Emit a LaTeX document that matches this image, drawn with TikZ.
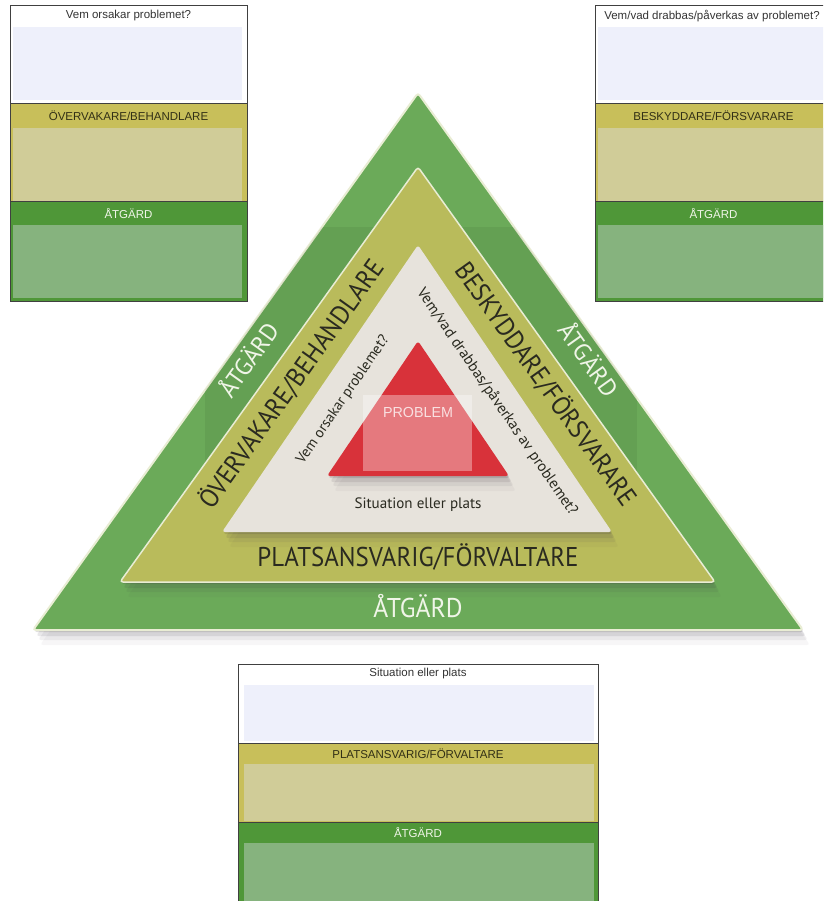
\documentclass[tikz,border=0pt]{standalone}
\usepackage{fontspec}
\usepackage{graphicx}
\setmainfont{Liberation Sans}
\newfontfamily\trifont{PT Sans}
\usetikzlibrary{shadows}
\definecolor{outgreen}{HTML}{6BAA59}
\definecolor{olivetri}{HTML}{B9BB5B}
\definecolor{greytri}{HTML}{E7E3DC}
\definecolor{redtri}{HTML}{D8323A}
\definecolor{creme}{HTML}{E9EDD4}
\definecolor{lav}{HTML}{EEF0FB}
\definecolor{olivehead}{HTML}{C8BF5A}
\definecolor{olivelight}{HTML}{D0CC98}
\definecolor{greenhead}{HTML}{4F9738}
\definecolor{greenlight}{HTML}{86B37E}
\definecolor{darktext}{HTML}{2A2A20}
\definecolor{lighttext}{HTML}{F0F5E8}
\definecolor{shadowcol}{HTML}{3A3040}
\newcommand\capfit[3]{\resizebox{#1}{#2}{\smash{#3}\vphantom{H}}}
\begin{document}
\begin{tikzpicture}[x=1pt,y=-1pt,
  softshadow/.style={
    drop shadow={shadow xshift=1pt,shadow yshift=-2pt,opacity=.16,fill=shadowcol},
    drop shadow={shadow xshift=3pt,shadow yshift=-6pt,opacity=.11,fill=shadowcol},
    drop shadow={shadow xshift=5pt,shadow yshift=-10pt,opacity=.07,fill=shadowcol},
    drop shadow={shadow xshift=7pt,shadow yshift=-15pt,opacity=.04,fill=shadowcol}},
  tri/.style={rounded corners=3pt},
  boxline/.style={draw=black!75,line width=1pt},
  boxfont/.style={font=\fontsize{11.5}{13}\selectfont,inner sep=0pt},
  boxtitle/.style={boxfont,text=black!80},
  oliveheadtext/.style={boxfont,text=black!75!olivehead},
  greenheadtext/.style={boxfont,text=lighttext},
  tritext/.style={font=\trifont,inner sep=0pt,text=darktext},
  triwhite/.style={font=\trifont,inner sep=0pt,text=lighttext}]
\useasboundingbox (0,0) rectangle (823,901);
\clip (0,0) rectangle (823,901);
\fill[white] (0,0) rectangle (823,901);

% ---------- triangles ----------
\coordinate (gA) at (418,93);  \coordinate (gL) at (33,630);  \coordinate (gR) at (803,630);
\coordinate (oA) at (418,167); \coordinate (oL) at (120,582); \coordinate (oR) at (715,582);
\coordinate (eA) at (418,245); \coordinate (eL) at (222,532); \coordinate (eR) at (612,532);
\coordinate (rA) at (418,341); \coordinate (rL) at (327,476); \coordinate (rR) at (509,476);

\path[tri,fill=outgreen,draw=creme,line width=2pt,softshadow] (gA) -- (gL) -- (gR) -- cycle;
\begin{scope}
  \clip (gA) -- (gL) -- (gR) -- cycle;
  \fill[black,opacity=.06] (205,227) rectangle (637,520);
\end{scope}
\path[tri,fill=olivetri,draw=creme,line width=1.5pt,softshadow] (oA) -- (oL) -- (oR) -- cycle;
\path[tri,fill=greytri,softshadow] (eA) -- (eL) -- (eR) -- cycle;
\path[tri,fill=redtri,softshadow] (rA) -- (rL) -- (rR) -- cycle;
\fill[white,opacity=.35] (363,395) rectangle (472,471);

% ---------- triangle texts ----------
\node[inner sep=0pt,text=white!85!redtri,font=\fontsize{11}{12}\selectfont] (prob) at (418,412) {\capfit{70pt}{10pt}{PROBLEM}};
\node[tritext] (sit) at (418,505) {\resizebox{127pt}{!}{\fontsize{15}{16}\selectfont Situation eller plats}};
\node[tritext] (plats) at (418,557) {\capfit{321pt}{19pt}{PLATSANSVARIG/FÖRVALTARE}};
\node[triwhite] (atgB) at (418,608) {\capfit{89pt}{19pt}{ÅTGÄRD}};
\node[tritext,rotate=54.5] (overv) at (291,384) {\capfit{298pt}{18.5pt}{ÖVERVAKARE/BEHANDLARE}};
\node[tritext,rotate=-54.5] (besk) at (546,384) {\capfit{292pt}{18.5pt}{BESKYDDARE/FÖRSVARARE}};
\node[triwhite,rotate=54.5] (atgL) at (249,360) {\capfit{84pt}{17pt}{ÅTGÄRD}};
\node[triwhite,rotate=-54.5] (atgR) at (588,360) {\capfit{84pt}{17pt}{ÅTGÄRD}};
\node[tritext,rotate=55.5] (vemL) at (343,400) {\resizebox{152pt}{!}{\fontsize{15}{16}\selectfont Vem orsakar problemet?}};
\node[tritext,rotate=-55.5] (vemR) at (497,402) {\resizebox{272pt}{!}{\fontsize{15}{16}\selectfont Vem/vad drabbas/påverkas av problemet?}};

% ---------- left box ----------
\fill[white] (10,6) rectangle (247,104);
\fill[lav] (13,27) rectangle (242,100);
\fill[olivehead] (10,104) rectangle (247,202);
\fill[olivelight] (13,128) rectangle (242,201);
\fill[greenhead] (10,202) rectangle (247,301);
\fill[greenlight] (13,225) rectangle (242,298);
\draw[boxline] (10,6) rectangle (247,301);
\draw[boxline] (10,104) -- (247,104) (10,202) -- (247,202);
\node[boxtitle] (lt) at (128.5,16) {Vem orsakar problemet?};
\node[oliveheadtext] (lo) at (128.5,116) {ÖVERVAKARE/BEHANDLARE};
\node[greenheadtext] (lg) at (128.5,213.5) {ÅTGÄRD};

% ---------- right box ----------
\fill[white] (595,6) rectangle (832,104);
\fill[lav] (598,27) rectangle (827,100);
\fill[olivehead] (595,104) rectangle (832,202);
\fill[olivelight] (598,128) rectangle (827,201);
\fill[greenhead] (595,202) rectangle (832,301);
\fill[greenlight] (598,225) rectangle (827,298);
\draw[boxline] (595,6) rectangle (832,301);
\draw[boxline] (595,104) -- (832,104) (595,202) -- (832,202);
\node[boxtitle] (rt) at (712,16) {Vem/vad drabbas/påverkas av problemet?};
\node[oliveheadtext] (ro) at (713.5,116) {BESKYDDARE/FÖRSVARARE};
\node[greenheadtext] (rg) at (713.5,213.5) {ÅTGÄRD};

% ---------- bottom box ----------
\fill[white] (238,664) rectangle (598,743);
\fill[lav] (244,685) rectangle (594,741);
\fill[olivehead] (238,743) rectangle (598,822);
\fill[olivelight] (244,764) rectangle (594,821);
\fill[greenhead] (238,822) rectangle (598,930);
\fill[greenlight] (244,843) rectangle (594,930);
\draw[boxline] (238,930) -- (238,664) -- (598,664) -- (598,930);
\draw[boxline] (238,743) -- (598,743) (238,822) -- (598,822);
\node[boxtitle] (bt) at (418,674) {Situation eller plats};
\node[oliveheadtext] (bo) at (418,753.5) {PLATSANSVARIG/FÖRVALTARE};
\node[greenheadtext] (bg) at (418,832.5) {ÅTGÄRD};
\end{tikzpicture}
\end{document}
